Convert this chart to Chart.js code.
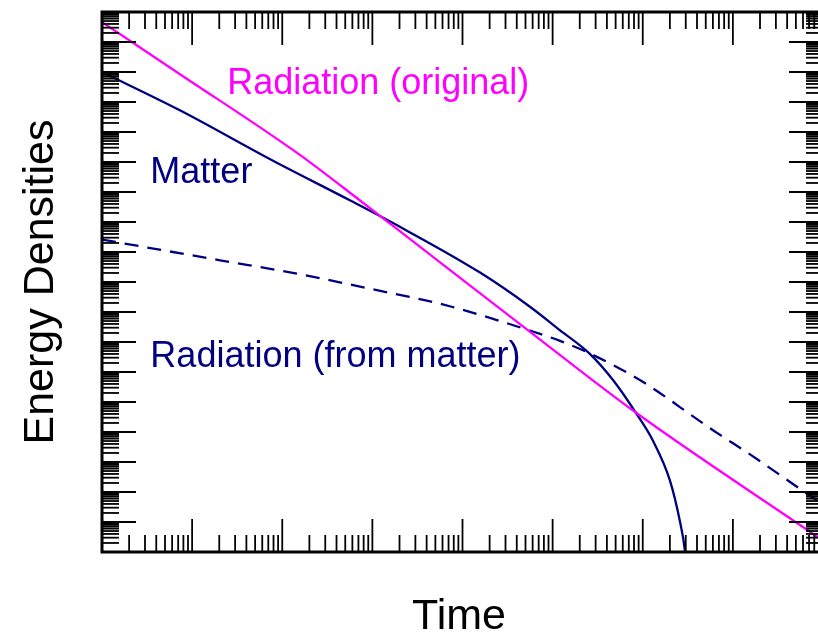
<!DOCTYPE html>
<html>
<head>
<meta charset="utf-8">
<script src="https://cdn.jsdelivr.net/npm/chart.js@4/dist/chart.umd.min.js"></script>
<style>
  html, body { margin: 0; padding: 0; background: #fff; }
  #wrap { width: 818px; height: 633px; overflow: hidden; }
</style>
</head>
<body>
<div id="wrap"><canvas id="myChart" width="824" height="633"></canvas></div>
<script>
// time axis (arbitrary units, log) and energy densities (log)
const timeRad = [1, 7.4, 150, 730, 1780, 5.3e4, 8.6e5, 1e8];
const radOriginal = [4.6e17, 8.3e15, 1.9e13, 5.2e11, 6.6e10, 2.5e7, 4.2e4, 2.4];

const timeMatter = [1, 7.4, 79, 562, 2040, 1.55e4, 5.6e4, 1.2e5, 2.57e5, 4.7e5, 8.5e5, 1.29e6, 2.0e6, 2.57e6, 2.95e6, 3.2e6];
const matter = [1.0e16, 5.2e14, 1.1e13, 5.3e11, 6.8e10, 2.1e9, 1.5e8, 2.5e7, 4.1e6, 5.3e5, 4.1e4, 5.3e3, 245, 11.4, 1, 0.05];

const timeFromMatter = [1, 20.4, 145, 1700, 5600, 5.4e4, 1.15e5, 2.57e5, 1e6, 4.3e6, 6.6e6, 1.55e7, 6.6e7, 1e8];
const radFromMatter = [2.6e10, 5.3e9, 1.9e9, 4.1e8, 1.9e8, 2.5e7, 1.15e7, 4.2e6, 4.7e5, 2.3e4, 9.5e3, 1.8e3, 89, 39];

const labelTexts = ['Radiation (original)', 'Matter', 'Radiation (from matter)'];
const labelTimes = [24.5, 3.44, 3.44];
const labelValues = [1.9e15, 2.0e12, 1.5e6];
const labelColors = ['#ff00ff', '#000080', '#000080'];

const FONT = '"Liberation Sans", Arial, Helvetica, sans-serif';

const toPoints = (xs, ys) => xs.map((t, i) => ({ x: t, y: ys[i] }));

const frame = {
    id: 'frame',
    afterDatasetsDraw(chart) {
        const { ctx, chartArea: a, scales: { x, y } } = chart;
        ctx.save();
        ctx.strokeStyle = '#000';
        ctx.lineWidth = 1.8;
        const seg = (x1, y1, x2, y2) => {
            ctx.beginPath(); ctx.moveTo(x1, y1); ctx.lineTo(x2, y2); ctx.stroke();
        };
        // x ticks, top and bottom, pointing inward
        for (let e = Math.log10(x.min); e < Math.log10(x.max); e++) {
            for (let d = 1; d <= 9; d++) {
                const px = x.getPixelForValue(d * Math.pow(10, e));
                const len = d === 1 ? 33 : 17;
                seg(px, a.bottom, px, a.bottom - len);
                seg(px, a.top, px, a.top + len);
            }
        }
        // y ticks, left and right
        for (let e = Math.log10(y.min); e < Math.log10(y.max); e++) {
            for (let d = 1; d <= 9; d++) {
                const py = y.getPixelForValue(d * Math.pow(10, e));
                const len = d === 1 ? 34 : 17;
                seg(a.left, py, a.left + len, py);
                seg(a.right, py, a.right - len, py);
            }
        }
        ctx.lineWidth = 3;
        ctx.strokeRect(a.left, a.top, a.width, a.height);

        // curve labels
        ctx.font = '36px ' + FONT;
        ctx.textBaseline = 'alphabetic';
        ctx.textAlign = 'left';
        labelTexts.forEach((txt, i) => {
            ctx.fillStyle = labelColors[i];
            ctx.fillText(txt, x.getPixelForValue(labelTimes[i]), y.getPixelForValue(labelValues[i]));
        });

        // axis titles
        ctx.fillStyle = '#000';
        ctx.font = '43px ' + FONT;
        ctx.textAlign = 'center';
        ctx.fillText('Time', 459, 629);
        ctx.translate(53, 282);
        ctx.rotate(-Math.PI / 2);
        ctx.fillText('Energy Densities', 0, 0);
        ctx.restore();
    }
};

const data = {
    datasets: [{
        label: 'Radiation (original)',
        data: toPoints(timeRad, radOriginal),
        borderColor: '#ff00ff',
        borderWidth: 2.3,
        pointRadius: 0,
        cubicInterpolationMode: 'monotone'
    }, {
        label: 'Matter',
        data: toPoints(timeMatter, matter),
        borderColor: '#000080',
        borderWidth: 2.3,
        pointRadius: 0,
        cubicInterpolationMode: 'monotone'
    }, {
        label: 'Radiation (from matter)',
        data: toPoints(timeFromMatter, radFromMatter),
        borderColor: '#000080',
        borderWidth: 2.3,
        borderDash: [14, 9],
        pointRadius: 0,
        cubicInterpolationMode: 'monotone'
    }]
};

const config = {
    type: 'line',
    data: data,
    options: {
        responsive: false,
        animation: false,
        layout: { padding: { left: 102, top: 12, right: 1, bottom: 81 } },
        scales: {
            x: { type: 'logarithmic', min: 1, max: 1e8, display: false },
            y: { type: 'logarithmic', min: 1, max: 1e18, display: false }
        },
        plugins: {
            legend: { display: false },
            tooltip: { enabled: false }
        }
    },
    plugins: [frame]
};

const myChart = new Chart(document.getElementById('myChart').getContext('2d'), config);
</script>
</body>
</html>
